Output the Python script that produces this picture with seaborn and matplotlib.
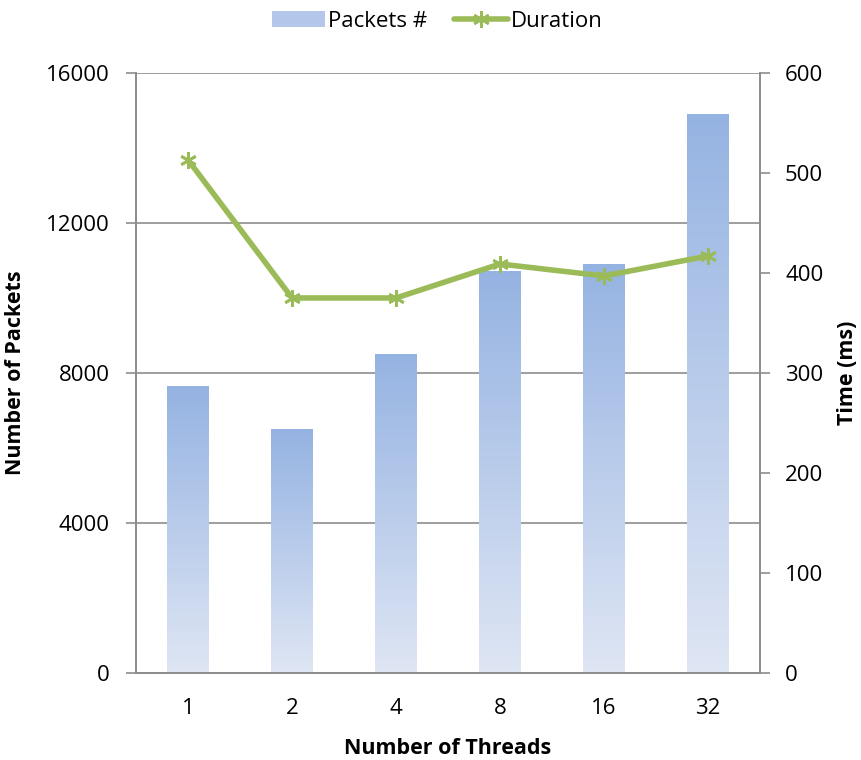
import numpy as np
import pandas as pd
import matplotlib
matplotlib.use("Agg")
import matplotlib.pyplot as plt
import seaborn as sns
from matplotlib.colors import LinearSegmentedColormap
from matplotlib.patches import Patch
from matplotlib.lines import Line2D

threads = ["1", "2", "4", "8", "16", "32"]
packets = [7630, 6500, 8480, 10700, 10900, 14880]
duration = [513, 375, 375, 409, 397, 417]

sns.set_theme(style="white")
plt.rcParams['font.family'] = ['Open Sans', 'DejaVu Sans']
plt.rcParams['text.color'] = 'black'
plt.rcParams['axes.labelcolor'] = 'black'
plt.rcParams['xtick.color'] = 'black'
plt.rcParams['ytick.color'] = 'black'

df = pd.DataFrame({"threads": threads, "packets": packets, "duration": duration})

fig = plt.figure(figsize=(8.61, 7.6), dpi=100)
ax = fig.add_axes([0.158, 0.1145, 0.7247, 0.7895])

sns.barplot(data=df, x="threads", y="packets", ax=ax, color="#a4bbe6",
            width=0.4, saturation=1, zorder=2)

cmap = LinearSegmentedColormap.from_list("g", ["#dfe6f4", "#95b3e2"])
grad = np.linspace(0, 1, 256).reshape(-1, 1)
for p in ax.patches:
    x0, y0 = p.get_x(), p.get_y()
    w, h = p.get_width(), p.get_height()
    im = ax.imshow(grad, cmap=cmap, aspect="auto", origin="lower",
                   extent=[x0, x0 + w, y0, y0 + h], zorder=2.5)
    p.set_facecolor("none")
    p.set_edgecolor("none")

ax.set_ylim(0, 16000)
ax.set_xlim(-0.5, 5.5)
ax.set_yticks([0, 4000, 8000, 12000, 16000])
ax.yaxis.grid(True, color="#8c8c8c", linewidth=1.2, zorder=0)
ax.set_axisbelow(True)
ax.set_xlabel("Number of Threads", fontsize=15.5, fontweight="bold", labelpad=14)
ax.set_ylabel("Number of Packets", fontsize=15.5, fontweight="bold", labelpad=14)

ax.set_xticks(range(6))
ax.set_xticklabels(threads)
ax.set_xticks(np.arange(-0.5, 6.0, 1.0), minor=True)
ax.tick_params(axis="x", which="major", length=0, pad=18, labelsize=16)
ax.tick_params(axis="x", which="minor", length=7, width=1.2, color="#8c8c8c", direction="out")
ax.tick_params(axis="y", length=7, width=1.2, color="#8c8c8c", labelcolor="black",
               direction="out", labelsize=16, pad=12)
for s in ax.spines.values():
    s.set_color("#8c8c8c")
    s.set_linewidth(1.2)
ax.spines["top"].set_visible(False)

ax2 = ax.twinx()
sns.lineplot(x=list(range(6)), y=duration, ax=ax2, color="#9bbb59", linewidth=4,
             marker=(6, 2, 0), markersize=12, markeredgewidth=2,
             markeredgecolor="#9bbb59", zorder=5)
ax2.set_ylim(0, 600)
ax2.set_yticks(range(0, 601, 100))
ax2.set_ylabel("Time (ms)", fontsize=15.5, fontweight="bold", labelpad=10)
ax2.tick_params(axis="y", length=7, width=1.2, color="#8c8c8c", labelcolor="black",
                direction="out", labelsize=16, pad=11)
for s in ax2.spines.values():
    s.set_color("#8c8c8c")
    s.set_linewidth(1.2)
ax2.spines["top"].set_visible(False)
ax2.grid(False)

handles = [Patch(facecolor="#b4c6ea", edgecolor="none"),
           Line2D([0], [0], color="#9bbb59", linewidth=4, marker=(6, 2, 0),
                  markersize=12, markeredgewidth=2, markeredgecolor="#9bbb59")]
fig.legend(handles, ["Packets #", "Duration"], loc="upper center",
           bbox_to_anchor=(0.508, 1.012), ncol=2, frameon=False, fontsize=16,
           handlelength=2.4, columnspacing=1.2, handletextpad=0.15)

fig.savefig("out.png", dpi=100)
